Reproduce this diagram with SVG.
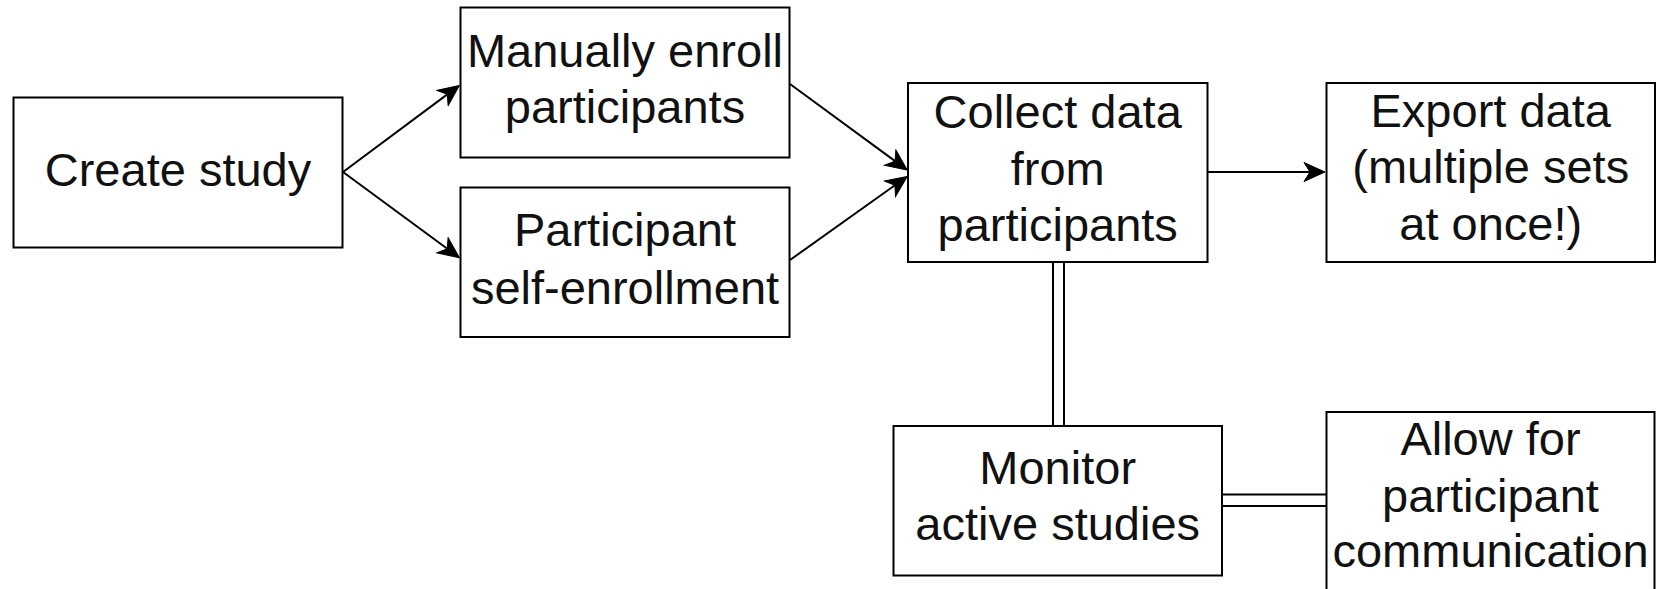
<svg xmlns="http://www.w3.org/2000/svg" width="1661" height="589" viewBox="0 0 1661 589">
<style>
.box{fill:#fff;stroke:#000;stroke-width:2}
.t{font-family:"Liberation Sans",Arial,Helvetica,sans-serif;font-size:47px;fill:#111;text-anchor:middle}
.edge{fill:none;stroke:#000;stroke-width:2}
.link{fill:none;stroke:#000;stroke-width:2}
</style>
<defs>
<marker id="arr" viewBox="-22 -11 23 22" markerWidth="23" markerHeight="22" refX="-15" refY="0" orient="auto" markerUnits="userSpaceOnUse">
<path d="M0,0 L-21,-9.5 L-15,0 L-21,9.5 Z" fill="#000" stroke="#000" stroke-width="1" stroke-linejoin="miter"/>
</marker>
</defs>
<rect width="1661" height="589" fill="#fff"/>
<g id="connectors">
<line class="edge" x1="343" y1="172" x2="447.3" y2="94.4" marker-end="url(#arr)"/>
<line class="edge" x1="343" y1="172" x2="447.3" y2="248.8" marker-end="url(#arr)"/>
<line class="edge" x1="790" y1="84" x2="895.1" y2="161.1" marker-end="url(#arr)"/>
<line class="edge" x1="790" y1="260" x2="894.9" y2="185.3" marker-end="url(#arr)"/>
<line class="edge" x1="1208" y1="172" x2="1310" y2="172" marker-end="url(#arr)"/>
<line class="link" x1="1053" y1="262" x2="1053" y2="426"/>
<line class="link" x1="1064" y1="262" x2="1064" y2="426"/>
<line class="link" x1="1222" y1="494.5" x2="1327" y2="494.5"/>
<line class="link" x1="1222" y1="506" x2="1327" y2="506"/>
</g>
<g id="create-study">
<rect class="box" x="13.5" y="97.5" width="329" height="150"/>
<text class="t" x="178" y="186">Create study</text>
</g>
<g id="manual-enroll">
<rect class="box" x="460.5" y="7.5" width="329" height="150"/>
<text class="t" x="625" y="66.7">Manually enroll</text>
<text class="t" x="625" y="123">participants</text>
</g>
<g id="self-enroll">
<rect class="box" x="460.5" y="187.5" width="329" height="149.5"/>
<text class="t" x="625" y="245.5">Participant</text>
<text class="t" x="625" y="304">self-enrollment</text>
</g>
<g id="collect-data">
<rect class="box" x="908" y="83" width="299.5" height="179"/>
<text class="t" x="1057.7" y="128">Collect data</text>
<text class="t" x="1057.7" y="185">from</text>
<text class="t" x="1057.7" y="241">participants</text>
</g>
<g id="export-data">
<rect class="box" x="1326.5" y="83" width="328.5" height="179"/>
<text class="t" x="1490.7" y="127">Export data</text>
<text class="t" x="1490.7" y="182.5">(multiple sets</text>
<text class="t" x="1490.7" y="239.5">at once!)</text>
</g>
<g id="monitor-studies">
<rect class="box" x="893.5" y="426" width="328.5" height="149.5"/>
<text class="t" x="1057.7" y="483.5">Monitor</text>
<text class="t" x="1057.7" y="540">active studies</text>
</g>
<g id="participant-communication">
<rect class="box" x="1326.5" y="412" width="328" height="179"/>
<text class="t" x="1490.5" y="455">Allow for</text>
<text class="t" x="1490.5" y="511.5">participant</text>
<text class="t" x="1490.5" y="566.5">communication</text>
</g>
</svg>
